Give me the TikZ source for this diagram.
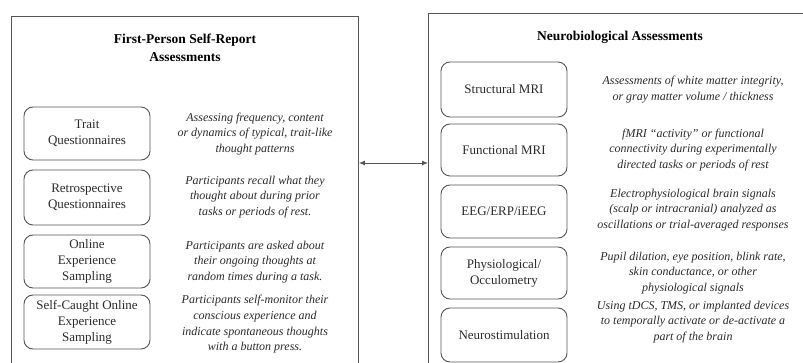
\documentclass[tikz,border=0pt]{standalone}
\usepackage{fontspec}
\setmainfont{Liberation Serif}
\usetikzlibrary{arrows.meta}
\definecolor{ln}{HTML}{555555}
\definecolor{tx}{HTML}{2A2A2A}
\tikzset{
  outerbox/.style={draw=ln, line width=0.9pt, rectangle, inner sep=0pt},
  methodbox/.style={draw=ln, line width=0.9pt, rounded corners=9pt, minimum width=126pt, inner sep=0pt, align=center, text=tx, font=\fontsize{13}{16}\selectfont},
  desc/.style={align=center, text=tx, inner sep=0pt, font=\fontsize{12}{15.7}\selectfont\itshape},
  title/.style={align=center, text=black, inner sep=0pt, font=\fontsize{13.5}{18}\selectfont\bfseries},
  link/.style={draw=ln, line width=0.9pt, {Latex[length=6pt,width=5pt]}-{Latex[length=6pt,width=5pt]}}
}
\begin{document}
\begin{tikzpicture}[x=1pt,y=-1pt]
\useasboundingbox (0,0) rectangle (803,363);
\clip (0,0) rectangle (803,363);
% outer panels (cut off by the picture's edges)
\node[outerbox, minimum width=347pt, minimum height=380pt, anchor=north west] (left) at (11,16) {};
\node[outerbox, minimum width=400pt, minimum height=380pt, anchor=north west] (right) at (428,13) {};
% titles
\node[title] (ltitle) at (185,48) {First-Person Self-Report\\Assessments};
\node[title] (rtitle) at (620,37) {Neurobiological Assessments};
% left methods
\node[methodbox, minimum height=53pt] (l1) at (87,133.5) {Trait\\Questionnaires};
\node[methodbox, minimum height=55pt] (l2) at (87,197.5) {Retrospective\\Questionnaires};
\node[methodbox, minimum height=53pt] (l3) at (87,261.5) {Online\\Experience\\Sampling};
\node[methodbox, minimum height=54pt] (l4) at (87,322) {Self-Caught Online\\Experience\\Sampling};
\node[desc] (d1) at (255,134) {Assessing frequency, content\\or dynamics of typical, trait-like\\thought patterns};
\node[desc] (d2) at (255,197) {Participants recall what they\\thought about during prior\\tasks or periods of rest.};
\node[desc] (d3) at (255,262) {Participants are asked about\\their ongoing thoughts at\\random times during a task.};
\node[desc] (d4) at (255,324.5) {Participants self-monitor their\\conscious experience and\\indicate spontaneous thoughts\\with a button press.};
% right methods
\node[methodbox, minimum height=55pt] (r1) at (504,89.5) {Structural MRI};
\node[methodbox, minimum height=52pt] (r2) at (504,150) {Functional MRI};
\node[methodbox, minimum height=53pt] (r3) at (504,211.5) {EEG/ERP/iEEG};
\node[methodbox, minimum height=52pt] (r4) at (504,273) {Physiological/\\Occulometry};
\node[methodbox, minimum height=54pt] (r5) at (504,335) {Neurostimulation};
\node[desc] (e1) at (693,89.5) {Assessments of white matter integrity,\\or gray matter volume / thickness};
\node[desc] (e2) at (693,150) {fMRI ``activity'' or functional\\connectivity during experimentally\\directed tasks or periods of rest};
\node[desc] (e3) at (693,210) {Electrophysiological brain signals\\(scalp or intracranial) analyzed as\\oscillations or trial-averaged responses};
\node[desc] (e4) at (693,273) {Pupil dilation, eye position, blink rate,\\skin conductance, or other\\physiological signals};
\node[desc] (e5) at (693,322) {Using tDCS, TMS, or implanted devices\\to temporally activate or de-activate a\\part of the brain};
% connector
\coordinate (ay) at (0,163);
\draw[link] (left.east |- ay) -- (right.west |- ay);
\end{tikzpicture}
\end{document}
